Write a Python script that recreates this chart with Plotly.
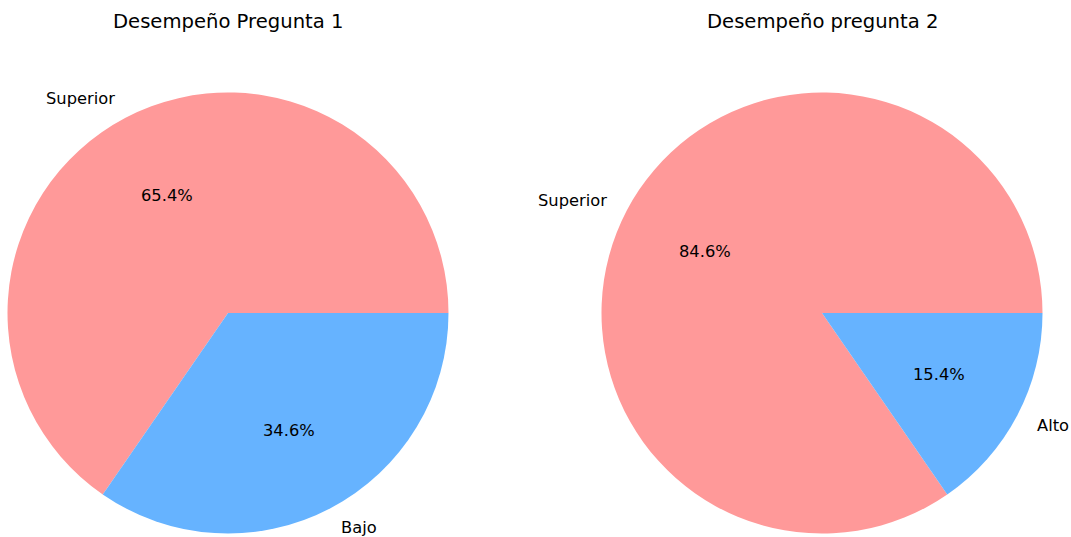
import math
import plotly.graph_objects as go

# Data
titles = ["Desempeño Pregunta 1", "Desempeño pregunta 2"]
labels_1 = ["Superior", "Bajo"]
values_1 = [17, 9]
labels_2 = ["Superior", "Alto"]
values_2 = [22, 4]
colors = ["#ff9999", "#66b3ff"]

W, H = 1071, 537
R = 220.5
centers = [(228, 313), (822, 313)]
FONT = "DejaVu Sans"
LABEL_SIZE = 16.3
TITLE_SIZE = 19.6

fig = go.Figure()
annotations = []

for (labels, values, title, (cx, cy)) in zip(
    [labels_1, labels_2], [values_1, values_2], titles, centers
):
    total = sum(values)
    first_angle = 360.0 * values[0] / total
    dom_x = [(cx - R) / W, (cx + R) / W]
    dom_y = [(H - (cy + R)) / H, (H - (cy - R)) / H]
    fig.add_trace(go.Pie(
        labels=labels, values=values, sort=False,
        direction="counterclockwise", rotation=90 - first_angle,
        marker=dict(colors=colors, line=dict(width=0)),
        textinfo="none", hoverinfo="skip", showlegend=False,
        domain=dict(x=dom_x, y=dom_y),
    ))
    start = 0.0
    for lab, v in zip(labels, values):
        frac = v / total
        mid = math.radians((start + frac / 2) * 360)
        start += frac
        lx = cx + 1.1 * R * math.cos(mid)
        ly = cy - 1.1 * R * math.sin(mid)
        annotations.append(dict(
            x=lx / W, y=1 - ly / H, xref="paper", yref="paper",
            text=lab, showarrow=False, borderpad=0, borderwidth=0,
            xanchor="left" if math.cos(mid) >= 0 else "right",
            yanchor="middle",
            font=dict(family=FONT, size=LABEL_SIZE, color="black"),
        ))
        px = cx + 0.6 * R * math.cos(mid)
        py = cy - 0.6 * R * math.sin(mid)
        annotations.append(dict(
            x=px / W, y=1 - py / H, xref="paper", yref="paper",
            text=f"{frac*100:.1f}%", showarrow=False, borderpad=0, borderwidth=0,
            xanchor="center", yanchor="middle",
            font=dict(family=FONT, size=LABEL_SIZE, color="black"),
        ))
    annotations.append(dict(
        x=cx / W, y=1 - 21 / H, xref="paper", yref="paper",
        text=title, showarrow=False, borderpad=0, borderwidth=0,
        xanchor="center", yanchor="middle",
        font=dict(family=FONT, size=TITLE_SIZE, color="black"),
    ))

fig.update_layout(
    width=W, height=H,
    margin=dict(l=0, r=0, t=0, b=0),
    paper_bgcolor="white", plot_bgcolor="white",
    annotations=annotations,
)

fig.write_html(
    "out.html",
    config={"displayModeBar": False},
    post_script="document.body.style.margin='0';document.body.style.overflow='hidden';",
)
